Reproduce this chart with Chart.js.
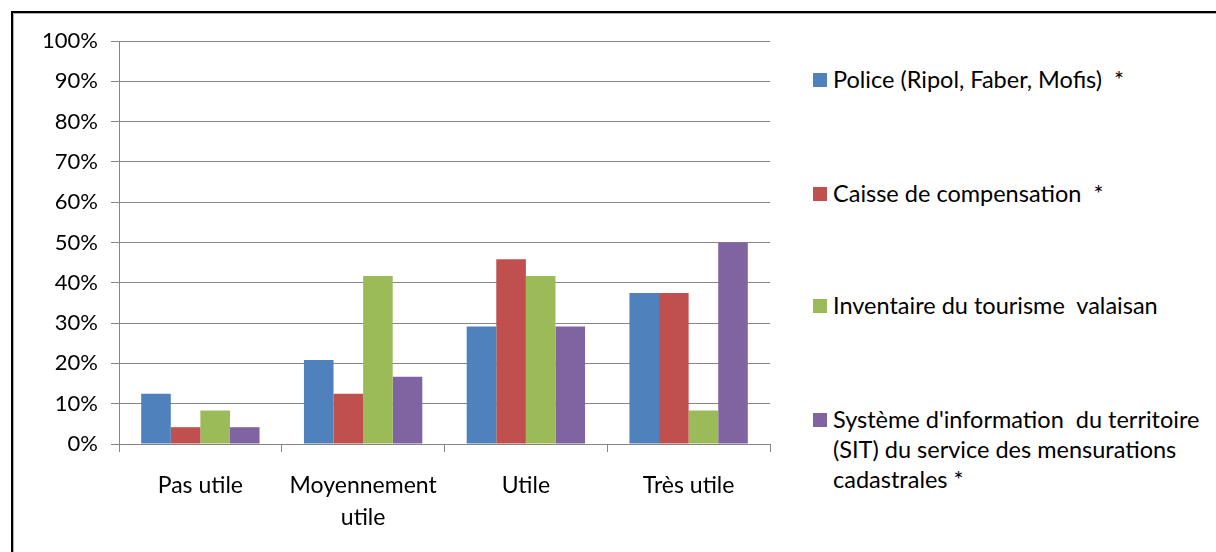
<!DOCTYPE html>
<html>
<head>
<meta charset="utf-8">
<script src="https://cdn.jsdelivr.net/npm/chart.js@4"></script>
<style>
  html, body { margin:0; padding:0; background:#fff; }
  body { width:1216px; height:552px; position:relative; overflow:hidden; font-family: Lato, "Open Sans", sans-serif; }
  #frame { position:absolute; left:11px; top:11px; width:1220px; height:560px; border-left:2px solid #000; border-top:2px solid #000; box-shadow: inset 1px 1px 0 #b0b0b0; }
  #wrap { position:absolute; left:0; top:0; width:800px; height:552px; }
  #legend { position:absolute; left:813px; top:0; width:400px; }
  .item { position:absolute; left:0; width:395px; }
  .sw { position:absolute; left:0; top:0; width:14px; height:14px; }
  .lab { position:absolute; left:20px; top:-9px; width:375px; font-size:23.5px; line-height:30px; color:#000; white-space:pre-wrap; }
</style>
</head>
<body>
<div id="frame"></div>
<div id="wrap"><canvas id="c"></canvas></div>
<div id="legend"></div>
<script>
const categories = ["Pas utile", ["Moyennement", "utile"], "Utile", "Très utile"];
const seriesNames = [
  "Police (Ripol, Faber, Mofis)  *",
  "Caisse de compensation  *",
  "Inventaire du tourisme  valaisan",
  "Système d'information  du territoire (SIT) du service des mensurations cadastrales *"
];
const police = [12.5, 20.83, 29.17, 37.5];
const caisse = [4.17, 12.5, 45.83, 37.5];
const inventaire = [8.33, 41.67, 41.67, 8.33];
const sit = [4.17, 16.67, 29.17, 50];
const colors = ["#4F81BD", "#C0504D", "#9BBB59", "#8064A2"];
const yTicks = [0, 10, 20, 30, 40, 50, 60, 70, 80, 90, 100];

const seriesValues = [police, caisse, inventaire, sit];
const legendTops = [73, 187, 299, 413];

const FONT = "Lato, 'Open Sans', sans-serif";

new Chart(document.getElementById('c'), {
  type: 'bar',
  data: {
    labels: categories,
    datasets: seriesValues.map((v, i) => ({
      label: seriesNames[i],
      data: v,
      backgroundColor: colors[i],
      borderWidth: 0,
      categoryPercentage: 4 / 5.5,
      barPercentage: 1.0
    }))
  },
  options: {
    responsive: true,
    maintainAspectRatio: false,
    animation: false,
    layout: { padding: { top: 41, right: 30, left: 0, bottom: 0 } },
    plugins: { legend: { display: false }, tooltip: { enabled: false } },
    scales: {
      x: {
        grid: { display: true, drawOnChartArea: false, drawTicks: true, tickLength: 8, color: '#868686', offset: true },
        border: { display: true, color: '#868686', width: 1 },
        ticks: { color: '#000', font: { family: FONT, size: 23, lineHeight: 1.38 }, padding: 18, maxRotation: 0, autoSkip: false },
        afterFit: (s) => { s.height = 108; }
      },
      y: {
        min: 0, max: 100,
        afterBuildTicks: (s) => { s.ticks = yTicks.map(v => ({ value: v })); },
        grid: { color: '#868686', lineWidth: 1, tickLength: 8, drawTicks: true },
        border: { display: true, color: '#868686', width: 1 },
        ticks: { color: '#000', font: { family: FONT, size: 22 }, padding: 13, callback: (v) => v + '%' },
        afterFit: (s) => { s.width = 119; }
      }
    }
  }
});

const leg = document.getElementById('legend');
seriesNames.forEach((name, i) => {
  const it = document.createElement('div');
  it.className = 'item';
  it.style.top = legendTops[i] + 'px';
  const sw = document.createElement('div');
  sw.className = 'sw';
  sw.style.background = colors[i];
  const lab = document.createElement('div');
  lab.className = 'lab';
  lab.textContent = name;
  it.appendChild(sw); it.appendChild(lab);
  leg.appendChild(it);
});
</script>
</body>
</html>
